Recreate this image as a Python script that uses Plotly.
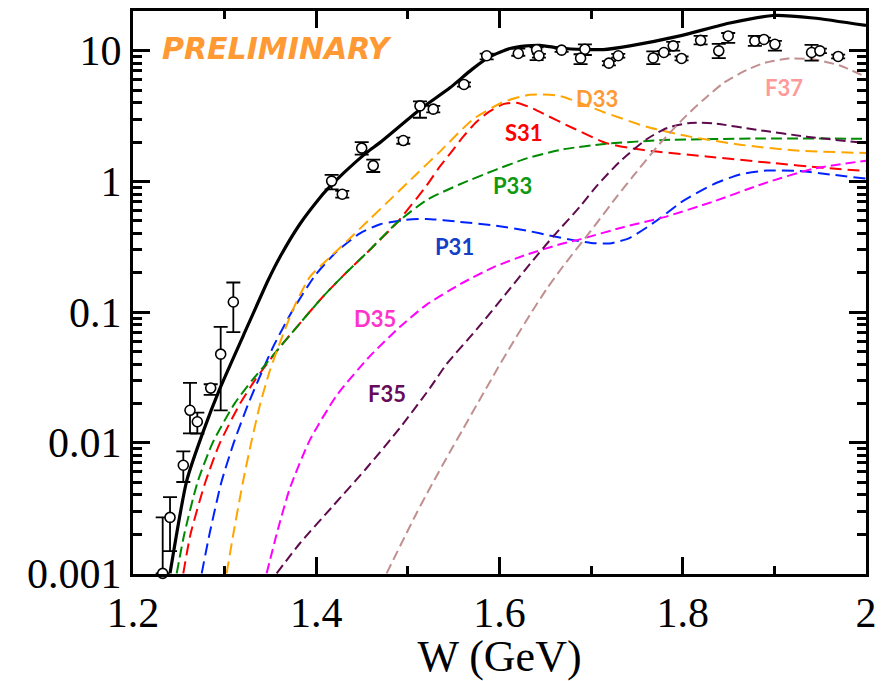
import plotly.graph_objects as go

# ---------------- data ----------------
# measured points: W (GeV), value, upper error, lower error
data_w = [1.2324, 1.2404, 1.2549, 1.2622, 1.2702, 1.2848, 1.2957, 1.3095,
          1.4168, 1.4284, 1.4496, 1.4622, 1.4950, 1.5132, 1.5277, 1.5612,
          1.5860, 1.6205, 1.6405, 1.6430, 1.6678, 1.6932, 1.6885, 1.7194,
          1.7296, 1.7678, 1.7794, 1.7896, 1.7987, 1.8195, 1.8393, 1.8496,
          1.8787, 1.8886, 1.9006, 1.9406, 1.9497, 1.9696]
data_y = [0.00100, 0.00268, 0.00672, 0.0177, 0.01446, 0.0262, 0.0476, 0.1193,
          1.005, 0.797, 1.796, 1.32, 2.054, 3.78, 3.57, 5.52,
          9.15, 9.52, 10.16, 9.15, 10.1, 10.27, 8.77, 8.03,
          9.15, 8.80, 9.69, 10.9, 8.73, 12.0, 9.98, 12.97,
          11.88, 12.2, 11.2, 9.69, 9.98, 9.04]
data_up = [0.00168, 0.00115, 0.00186, 0.0110, 0.0025, 0.0018, 0.0295, 0.049,
           0.115, 0.048, 0.20, 0.148, 0.106, 0.32, 0.21, 0.20,
           0.35, 0.88, 0.44, 0.30, 0.30, 0.93, 0.63, 0.30,
           0.30, 1.10, 0.30, 0.80, 0.30, 0.97, 1.30, 0.70,
           1.10, 0.40, 0.70, 1.40, 0.40, 0.30]
data_dn = [0.0, 0.00120, 0.00172, 0.0059, 0.0027, 0.0030, 0.0299, 0.049,
           0.135, 0.046, 0.196, 0.14, 0.114, 0.71, 0.20, 0.20,
           0.55, 0.37, 1.69, 0.30, 0.30, 1.00, 0.87, 0.30,
           0.30, 0.90, 0.30, 0.90, 0.30, 0.80, 1.20, 1.50,
           1.00, 0.40, 1.20, 1.30, 0.40, 0.30]

# total (solid black)
tot_w = [1.2404, 1.2586, 1.2767, 1.2949, 1.3204, 1.3476, 1.3604, 1.3822, 1.4040,
         1.4114, 1.4300, 1.4550, 1.4695, 1.5132, 1.5459, 1.5700, 1.5896, 1.6114,
         1.6296, 1.6441, 1.6696, 1.7132, 1.7423, 1.7969, 1.8515, 1.8987, 1.9424, 2.0]
tot_y = [0.001, 0.0051, 0.0122, 0.026, 0.066, 0.176, 0.264, 0.472, 0.75,
         0.86, 1.16, 1.66, 1.98, 3.55, 5.20, 7.20, 9.00, 10.4,
         10.9, 11.0, 10.4, 10.2, 10.9, 13.0, 16.3, 18.6, 17.8, 15.6]

s31_w = [1.2549, 1.2628, 1.2790, 1.2950, 1.3170, 1.3330, 1.3460, 1.3604, 1.3822,
         1.4077, 1.4295, 1.4586, 1.4877, 1.5205, 1.5332, 1.5478, 1.5604, 1.5750,
         1.5896, 1.6041, 1.6180, 1.6332, 1.6440, 1.6805, 1.7169, 1.7423, 1.7714,
         1.8260, 1.8987, 1.9530, 2.0]
s31_y = [0.001, 0.002, 0.005, 0.010, 0.020, 0.030, 0.040, 0.054, 0.082,
         0.132, 0.190, 0.300, 0.480, 0.93, 1.25, 1.69, 2.20, 2.86,
         3.45, 3.90, 4.00, 3.70, 3.40, 2.55, 1.96, 1.80, 1.69,
         1.55, 1.38, 1.27, 1.20]

p31_w = [1.2750, 1.2835, 1.2965, 1.3100, 1.3260, 1.3400, 1.3540, 1.3732, 1.3986,
         1.4223, 1.4477, 1.4700, 1.4950, 1.5205, 1.5568, 1.5932, 1.6296, 1.6587,
         1.6805, 1.7000, 1.7200, 1.7423, 1.7714, 1.8005, 1.8333, 1.8625, 1.8915,
         1.9279, 1.9606, 2.0]
p31_y = [0.001, 0.002, 0.005, 0.010, 0.020, 0.034, 0.056, 0.100, 0.190,
         0.290, 0.400, 0.470, 0.505, 0.516, 0.490, 0.460, 0.420, 0.380,
         0.355, 0.338, 0.335, 0.370, 0.500, 0.710, 0.950, 1.13, 1.21,
         1.20, 1.13, 1.05]

p33_w = [1.2477, 1.2560, 1.2705, 1.2870, 1.3110, 1.3300, 1.3450, 1.3604, 1.3822,
         1.4077, 1.4295, 1.4586, 1.4877, 1.5205, 1.5568, 1.5950, 1.6296, 1.6696,
         1.7169, 1.7787, 1.8878, 2.0]
p33_y = [0.001, 0.002, 0.005, 0.010, 0.020, 0.030, 0.040, 0.054, 0.082,
         0.132, 0.190, 0.300, 0.480, 0.72, 0.95, 1.22, 1.50, 1.76,
         1.94, 2.07, 2.13, 2.12]

d33_w = [1.3022, 1.3095, 1.3200, 1.3290, 1.3390, 1.3490, 1.3590, 1.3760, 1.3931,
         1.4150, 1.4332, 1.4586, 1.4840, 1.5096, 1.5350, 1.5714, 1.6041, 1.6332,
         1.6659, 1.7132, 1.7605, 1.8078, 1.8624, 1.9242, 2.0]
d33_y = [0.001, 0.002, 0.005, 0.010, 0.020, 0.035, 0.055, 0.110, 0.186,
         0.263, 0.347, 0.515, 0.764, 1.14, 1.69, 3.00, 4.05, 4.60,
         4.50, 3.40, 2.62, 2.20, 1.91, 1.72, 1.65]

d35_w = [1.3459, 1.3568, 1.3713, 1.3931, 1.4223, 1.4586, 1.4914, 1.5205, 1.5568,
         1.5932, 1.6296, 1.6660, 1.6878, 1.7350, 1.7787, 1.8333, 1.8878, 1.9424, 2.0]
d35_y = [0.001, 0.002, 0.0045, 0.0105, 0.023, 0.046, 0.077, 0.114, 0.163,
         0.220, 0.275, 0.330, 0.360, 0.446, 0.530, 0.700, 0.960, 1.25, 1.44]

f35_w = [1.3568, 1.3822, 1.4186, 1.4550, 1.4914, 1.5241, 1.5423, 1.5750, 1.6077,
         1.6368, 1.6587, 1.6878, 1.7060, 1.7314, 1.7605, 1.7823, 1.8078, 1.8333,
         1.8805, 1.9351, 2.0]
f35_y = [0.001, 0.0017, 0.0033, 0.0064, 0.0130, 0.0262, 0.040, 0.0736, 0.140,
         0.250, 0.380, 0.64, 0.92, 1.42, 2.10, 2.55, 2.80, 2.78,
         2.48, 2.20, 1.96]

f37_w = [1.4768, 1.5096, 1.5241, 1.5459, 1.5604, 1.5787, 1.5969, 1.6150, 1.6332,
         1.6514, 1.6696, 1.6987, 1.7278, 1.7460, 1.7751, 1.8042, 1.8224, 1.8450,
         1.8696, 1.8900, 1.9150, 1.9424, 1.9715, 2.0]
f37_y = [0.001, 0.0029, 0.0045, 0.0085, 0.0128, 0.0215, 0.036, 0.059, 0.095,
         0.150, 0.225, 0.410, 0.76, 1.10, 1.95, 3.20, 4.20, 5.70,
         7.10, 8.10, 8.70, 8.60, 7.70, 6.30]

y_tickvals = [0.001, 0.01, 0.1, 1, 10]
y_ticktext = ["0.001", "0.01", "0.1", "1", "10"]
x_tickvals = [1.2, 1.4, 1.6, 1.8, 2.0]
x_ticktext = ["1.2", "1.4", "1.6", "1.8", "2"]

# ---------------- figure ----------------
fig = go.Figure()

components = [
    (s31_w, s31_y, "#FF0000", "12px,6px"),
    (p31_w, p31_y, "#0022FF", "12px,6px"),
    (p33_w, p33_y, "#008A00", "11px,5px"),
    (d33_w, d33_y, "#FFA500", "12px,6px"),
    (d35_w, d35_y, "#FF00FF", "10px,5px"),
    (f35_w, f35_y, "#5E0B4E", "10px,5px"),
    (f37_w, f37_y, "#C09090", "10px,5px"),
]
for w, y, c, d in components:
    fig.add_trace(go.Scatter(x=w, y=y, mode="lines",
                             line=dict(color=c, width=2, dash=d, shape="spline", smoothing=0.6),
                             showlegend=False, hoverinfo="skip"))

fig.add_trace(go.Scatter(x=tot_w, y=tot_y, mode="lines",
                         line=dict(color="black", width=3.2, shape="spline", smoothing=0.6),
                         showlegend=False))

fig.add_trace(go.Scatter(
    x=data_w, y=data_y, mode="markers",
    marker=dict(symbol="circle", size=10, color="white", line=dict(color="black", width=1.6)),
    error_y=dict(type="data", symmetric=False, array=data_up, arrayminus=data_dn,
                 color="black", thickness=1.8, width=7),
    cliponaxis=False, showlegend=False))

label_font = "Lato, 'Open Sans', sans-serif"
labels = [
    ("D33", 1.7069, 0.631, "#FF9933"),
    ("S31", 1.6267, 0.373, "#FF0000"),
    ("P33", 1.6147, -0.028, "#109910"),
    ("P31", 1.5514, -0.497, "#1440C8"),
    ("D35", 1.4641, -1.05, "#FF33CC"),
    ("F35", 1.4777, -1.625, "#660A5A"),
    ("F37", 1.9104, 0.7177, "#FF9A9A"),
]
for t, x, ly, c in labels:
    fig.add_annotation(x=x, y=ly, text="<b>" + t + "</b>", showarrow=False,
                       font=dict(family=label_font, size=22, color=c))

fig.add_annotation(x=1.3577, y=1.0166, text="<b><i>PRELIMINARY</i></b>", showarrow=False,
                   font=dict(family="'DejaVu Sans', Verdana, sans-serif", size=30, color="#FF9933"))

axis_common = dict(showline=True, linecolor="black", linewidth=3, mirror="ticks",
                   ticks="inside", ticklen=17, tickwidth=2.5, tickcolor="black",
                   showgrid=False, zeroline=False,
                   tickfont=dict(family="'Liberation Serif', 'Times New Roman', serif", size=42, color="black"))

minor_y = [m * 10.0 ** e for e in range(-3, 2) for m in range(2, 10) if m * 10.0 ** e < 20.2]
minor_x = [1.3, 1.5, 1.7, 1.9]

fig.update_xaxes(range=[1.2, 2.0], tickmode="array", tickvals=x_tickvals, ticktext=x_ticktext,
                 minor=dict(tickmode="array", tickvals=minor_x, ticks="inside", ticklen=8,
                            tickwidth=2.5, tickcolor="black", showgrid=False),
                 title=dict(text="W (GeV)", standoff=6,
                            font=dict(family="'Liberation Serif', 'Times New Roman', serif", size=44, color="black")),
                 **axis_common)
fig.update_yaxes(type="log", range=[-3.005, 1.304], tickmode="array", tickvals=y_tickvals,
                 ticktext=y_ticktext,
                 minor=dict(tickmode="array", tickvals=minor_y, ticks="inside", ticklen=9,
                            tickwidth=2.5, tickcolor="black", showgrid=False),
                 **axis_common)

fig.update_layout(width=887, height=681, margin=dict(l=133, r=21, t=8, b=104),
                  paper_bgcolor="white", plot_bgcolor="white")

fig.write_html("out.html")
